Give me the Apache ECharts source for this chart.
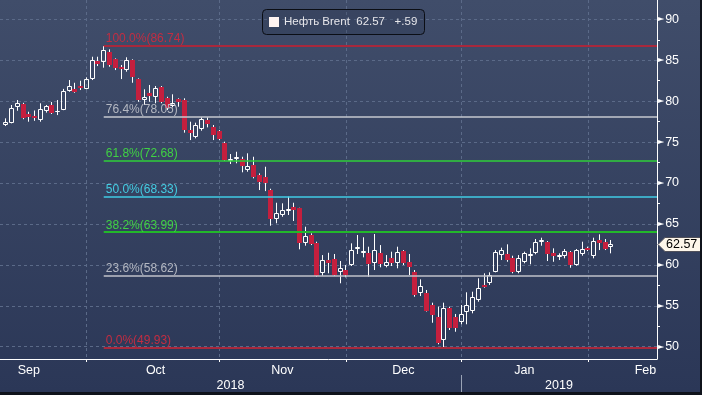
<!DOCTYPE html>
<html><head><meta charset="utf-8">
<script src="https://cdn.jsdelivr.net/npm/echarts@6/dist/echarts.min.js"></script>
<style>
html,body{margin:0;padding:0;background:#0f131b;}
#chart{width:700px;height:392px;}
</style></head><body>
<div id="chart"></div>
<script>
const tradeDates = [
'2018-09-10','2018-09-11','2018-09-12','2018-09-13','2018-09-14','2018-09-17','2018-09-18','2018-09-19','2018-09-20','2018-09-21','2018-09-24','2018-09-25','2018-09-26','2018-09-27','2018-09-28',
'2018-10-01','2018-10-02','2018-10-03','2018-10-04','2018-10-05','2018-10-08','2018-10-09','2018-10-10','2018-10-11','2018-10-12','2018-10-15','2018-10-16','2018-10-17','2018-10-18','2018-10-19','2018-10-22','2018-10-23','2018-10-24','2018-10-25','2018-10-26','2018-10-29','2018-10-30','2018-10-31',
'2018-11-01','2018-11-02','2018-11-05','2018-11-06','2018-11-07','2018-11-08','2018-11-09','2018-11-12','2018-11-13','2018-11-14','2018-11-15','2018-11-16','2018-11-19','2018-11-20','2018-11-21','2018-11-22','2018-11-23','2018-11-26','2018-11-27','2018-11-28','2018-11-29','2018-11-30',
'2018-12-03','2018-12-04','2018-12-05','2018-12-06','2018-12-07','2018-12-10','2018-12-11','2018-12-12','2018-12-13','2018-12-14','2018-12-17','2018-12-18','2018-12-19','2018-12-20','2018-12-21','2018-12-24','2018-12-26','2018-12-27','2018-12-28','2018-12-31',
'2019-01-02','2019-01-03','2019-01-04','2019-01-07','2019-01-08','2019-01-09','2019-01-10','2019-01-11','2019-01-14','2019-01-15','2019-01-16','2019-01-17','2019-01-18','2019-01-21','2019-01-22','2019-01-23','2019-01-24','2019-01-25','2019-01-28','2019-01-29','2019-01-30','2019-01-31',
'2019-02-01','2019-02-04','2019-02-05','2019-02-06'];
const open = [
77.09,77.37,79.32,79.65,78.43,78.18,77.70,78.83,79.53,78.67,78.92,81.28,81.52,81.85,81.48,
82.70,84.90,84.74,86.04,85.11,84.21,83.80,85.03,82.67,80.14,80.95,80.54,81.77,80.35,79.41,80.22,80.14,76.47,75.66,76.56,77.70,76.88,76.39,
74.85,72.72,72.90,72.90,71.59,72.20,70.98,70.70,69.15,65.60,66.09,66.62,67.03,66.91,62.63,63.65,62.63,58.97,60.59,60.71,59.16,59.37,
59.98,61.94,61.41,61.48,60.26,61.48,59.86,60.87,60.26,61.73,60.38,59.16,56.52,56.52,55.09,53.67,50.82,54.69,53.60,53.05,
54.20,54.36,55.71,57.54,57.75,59.16,61.20,61.29,60.80,59.16,60.31,61.12,61.41,62.83,62.75,61.41,61.00,61.08,61.61,59.98,61.29,62.10,
61.12,63.04,62.83,62.20];
const close = [
77.49,79.13,79.74,77.90,78.03,77.90,79.00,79.41,78.59,78.80,81.28,81.85,81.15,81.57,82.70,
85.03,84.54,86.25,84.42,84.01,83.89,85.03,82.91,80.14,80.54,80.67,81.57,79.93,79.13,79.81,79.93,76.47,76.07,77.09,77.78,77.21,75.86,75.34,
72.81,72.90,73.14,72.11,72.08,70.70,70.16,70.04,65.57,66.30,66.70,66.86,66.70,62.63,63.52,62.55,58.64,60.59,60.19,58.76,59.58,58.76,
61.81,62.22,61.73,60.10,61.81,60.10,60.38,60.19,61.61,60.19,59.70,56.32,57.42,54.40,53.87,50.42,54.69,52.25,52.30,53.95,
55.09,56.11,57.21,57.29,58.76,61.61,61.81,60.59,59.09,60.80,61.41,61.29,62.75,63.04,61.29,61.08,61.20,61.69,59.98,61.81,61.94,61.81,
62.91,62.63,61.98,62.57];
const low = [
76.96,77.29,78.83,77.80,77.49,77.60,77.49,78.60,78.43,78.30,78.90,81.15,81.03,81.36,81.45,
82.58,84.29,84.09,84.21,83.80,82.70,83.60,82.25,79.93,79.53,79.93,79.74,79.74,78.92,79.25,79.32,76.15,75.25,75.46,76.39,76.80,75.25,75.25,
72.72,72.32,72.41,71.31,71.38,70.57,69.14,69.01,64.78,65.08,65.88,66.09,65.36,61.90,62.34,62.42,58.55,58.67,58.97,58.67,57.75,58.48,
59.86,61.33,60.92,58.55,59.37,59.70,59.70,59.86,59.58,59.98,58.76,56.11,56.19,54.30,52.93,50.30,49.93,52.04,51.83,52.74,
52.74,54.08,55.50,57.21,57.54,59.09,60.59,60.38,58.97,58.97,60.19,60.07,61.29,62.34,60.47,60.38,60.59,60.80,59.65,59.90,61.12,61.69,
60.80,61.81,61.81,61.41];
const high = [
77.90,79.53,80.14,79.80,78.71,78.86,79.74,79.53,79.90,80.14,81.50,82.58,82.25,82.50,82.91,
85.43,85.43,86.74,86.33,85.23,84.42,85.36,85.11,82.79,81.45,81.98,81.85,81.85,80.54,80.84,80.35,80.35,77.49,77.37,78.03,78.03,77.09,76.47,
75.05,73.54,73.82,73.21,73.63,73.21,71.18,71.99,69.30,67.59,67.52,68.33,67.59,66.98,64.66,63.85,62.83,61.20,61.48,61.33,60.47,59.98,
62.63,63.65,63.37,62.22,63.77,62.42,61.20,61.61,62.22,61.81,61.33,59.37,58.23,56.93,55.38,54.89,55.38,54.89,54.00,55.09,
56.65,56.72,58.36,58.97,59.09,61.81,62.10,62.51,61.12,61.20,61.61,62.02,63.16,63.32,62.91,62.02,61.41,61.94,61.69,61.94,62.83,62.22,
63.32,63.73,63.16,63.04];

const leadDates = ['2018-09-07'];
const futureDates = ['2019-02-07','2019-02-08','2019-02-11','2019-02-12','2019-02-13','2019-02-14','2019-02-15','2019-02-18'];
const monthTickDates = ['2018-09-28','2018-10-31','2018-11-30','2018-12-31','2019-01-31'];
const monthLabelDates = ['2018-09-14','2018-10-16','2018-11-15','2018-12-14','2019-01-16','2019-02-14'];
const monthLabels = ['Sep','Oct','Nov','Dec','Jan','Feb'];
const yearTickDates = ['2018-12-31'];
const yearLabelDates = ['2018-11-02','2019-01-24'];
const yearLabels = ['2018','2019'];
const yMajor = [50,55,60,65,70,75,80,85,90];
const yMinor = [52.5,57.5,62.5,67.5,72.5,77.5,82.5,87.5];
const fibPct = ['100.0','76.4','61.8','50.0','38.2','23.6','0.0'];
const fibVal = [86.74,78.05,72.68,68.33,63.99,58.62,49.93];
const fibStartDate = '2018-10-03';
const seriesName = 'Нефть Brent';

const fibLine = ['#a8283c','#c6c8cf','#2fcf3a','#40cce4','#22b82a','#c0c2ca','#a8283c'];
const fibText = ['#c22d42','#b4b8c2','#40d244','#44cce2','#40d244','#b4b8c2','#c22d42'];
const fibWidth = [2,1.5,1.5,1.5,2,1.5,2];

const FONT = "'Liberation Sans',Arial,sans-serif";
const axisDates = leadDates.concat(tradeDates, futureDates);
const lastIdx = tradeDates.length - 1;
const lastClose = close[lastIdx];
const chg = close[lastIdx] - close[lastIdx - 1];
const chgText = (chg >= 0 ? '+' : '-') + Math.abs(chg).toFixed(2).replace(/^0/, '');

const candleData = tradeDates.map((d, i) => [d, open[i], close[i], low[i], high[i]]);

const chart = echarts.init(document.getElementById('chart'), null, {renderer: 'canvas'});
const gridColor = '#5b6a88';

chart.setOption({
  animation: false,
  backgroundColor: new echarts.graphic.LinearGradient(0, 0, 0, 1, [
    {offset: 0, color: '#404d6a'}, {offset: 1, color: '#2b3757'}
  ]),
  textStyle: {fontFamily: FONT},
  title: {
    left: 262, top: 9,
    padding: [6, 7, 6, 7],
    borderColor: '#0b0e15', borderWidth: 1, borderRadius: 4,
    backgroundColor: 'rgba(30,38,58,0.2)',
    text: '{sq| }{t|' + seriesName + '  ' + lastClose.toFixed(2) + '   ' + chgText + '}',
    textStyle: {
      fontSize: 11.5, fontWeight: 'normal', color: '#e6e6ea', fontFamily: FONT, lineHeight: 14,
      rich: {
        sq: {width: 10, height: 10, backgroundColor: '#fff4f1', verticalAlign: 'middle'},
        t: {fontSize: 11.5, color: '#e6e6ea', fontFamily: FONT, padding: [0, 0, 0, 5], verticalAlign: 'middle', lineHeight: 14}
      }
    }
  },
  grid: {left: -3.72, right: 43, top: 0, bottom: 33, containLabel: false},
  xAxis: [{
    type: 'category', data: axisDates, boundaryGap: false,
    axisLine: {show: true, lineStyle: {color: '#ffffff', width: 1}},
    axisTick: {show: true, length: 3, interval: (i, v) => monthTickDates.includes(v), lineStyle: {color: '#ffffff'}},
    axisLabel: {show: true, interval: (i, v) => monthLabelDates.includes(v),
      formatter: v => monthLabels[monthLabelDates.indexOf(v)] || '',
      color: '#ffffff', fontSize: 12.5, fontFamily: FONT, margin: 5},
    splitLine: {show: true, interval: (i, v) => monthTickDates.includes(v),
      lineStyle: {color: gridColor, type: [3, 3], width: 1}}
  }, {
    type: 'category', data: axisDates, boundaryGap: false, position: 'bottom', offset: 16,
    axisLine: {show: false},
    axisTick: {show: true, length: 17, interval: (i, v) => yearTickDates.includes(v), lineStyle: {color: '#9aa3b5'}},
    axisLabel: {show: true, interval: (i, v) => yearLabelDates.includes(v),
      formatter: v => yearLabels[yearLabelDates.indexOf(v)] || '',
      color: '#ffffff', fontSize: 12.5, fontFamily: FONT, margin: 4},
    splitLine: {show: false}
  }],
  yAxis: [{
    type: 'value', position: 'right', min: 48.5, max: 92.36, scale: true,
    axisLine: {show: true, lineStyle: {color: '#ffffff', width: 1}},
    axisTick: {show: false, customValues: yMajor},
    axisLabel: {show: true, customValues: yMajor, margin: 1,
      formatter: v => '{t|\u25BA}{v|' + v + '}',
      rich: {
        t: {fontFamily: 'DejaVu Sans', fontSize: 8, color: '#ffffff', verticalAlign: 'middle', padding: [0, 1, 0, 0]},
        v: {fontFamily: FONT, fontSize: 12.5, color: '#ffffff', verticalAlign: 'middle'}
      }},
    splitLine: {show: true, lineStyle: {color: gridColor, type: [3, 3], width: 1}}
  }, {
    type: 'value', position: 'right', min: 48.5, max: 92.36, scale: true,
    axisLine: {show: false},
    axisTick: {show: true, length: 3, customValues: yMinor, lineStyle: {color: '#ffffff'}},
    axisLabel: {show: false},
    splitLine: {show: false}
  }],
  series: [{
    name: 'fib', type: 'line', data: [], silent: true, z: 1,
    markLine: {
      silent: true, symbol: ['none', 'none'], animation: false,
      data: fibVal.map((v, i) => [
        {coord: [fibStartDate, v],
         lineStyle: {color: fibLine[i], width: fibWidth[i], type: 'solid'},
         label: {show: true, position: 'insideStartTop', distance: [2, 1],
           formatter: fibPct[i] + '%(' + v.toFixed(2) + ')',
           color: fibText[i], fontSize: 12, fontFamily: FONT}},
        {coord: [axisDates[axisDates.length - 1], v]}
      ])
    }
  }, {
    name: seriesName, type: 'custom', z: 3,
    data: candleData,
    encode: {x: 0, y: [1, 2, 3, 4]},
    renderItem: (params, api) => {
      const xi = api.value(0);
      const o = api.value(1), c = api.value(2), l = api.value(3), h = api.value(4);
      const pO = api.coord([xi, o]), pC = api.coord([xi, c]);
      const pL = api.coord([xi, l]), pH = api.coord([xi, h]);
      const cx = Math.floor(pO[0]);
      const lx = cx + 0.5;
      const top = Math.round(Math.min(pO[1], pC[1]));
      const bot = Math.round(Math.max(pO[1], pC[1]));
      const up = c >= o;
      const ch = [
        {type: 'line', shape: {x1: lx, y1: pH[1], x2: lx, y2: top}, style: {stroke: '#ffffff', lineWidth: 1}},
        {type: 'line', shape: {x1: lx, y1: bot, x2: lx, y2: pL[1]}, style: {stroke: '#ffffff', lineWidth: 1}}
      ];
      if (up) {
        ch.push({type: 'rect', shape: {x: cx - 1.5, y: top + 0.5, width: 4, height: Math.max(bot - top - 1, 0)},
          style: {fill: 'none', stroke: '#ffffff', lineWidth: 1}});
      } else {
        ch.push({type: 'rect', shape: {x: cx - 2, y: top, width: 5, height: Math.max(bot - top, 1)},
          style: {fill: '#c41f3e', stroke: null}});
      }
      return {type: 'group', children: ch};
    }
  }, {
    name: 'last', type: 'custom', z: 10, silent: true,
    data: [[tradeDates[lastIdx], lastClose]],
    encode: {x: 0, y: 1},
    renderItem: (params, api) => {
      const cs = params.coordSys;
      const p = api.coord([api.value(0), api.value(1)]);
      const x0 = cs.x + cs.width + 1;
      const y = Math.round(p[1]) + 0.5;
      return {type: 'group', children: [
        {type: 'polygon', shape: {points: [[x0, y], [x0 + 7, y - 7], [x0 + 44, y - 7], [x0 + 44, y + 7], [x0 + 7, y + 7]]},
          style: {fill: '#fdf6ea', stroke: '#50505a', lineWidth: 1}},
        {type: 'text', style: {text: api.value(1).toFixed(2), x: x0 + 8, y: y + 0.5, verticalAlign: 'middle',
          fill: '#000000', fontSize: 12.5, fontFamily: FONT}}
      ]};
    }
  }]
});
</script>
</body></html>
